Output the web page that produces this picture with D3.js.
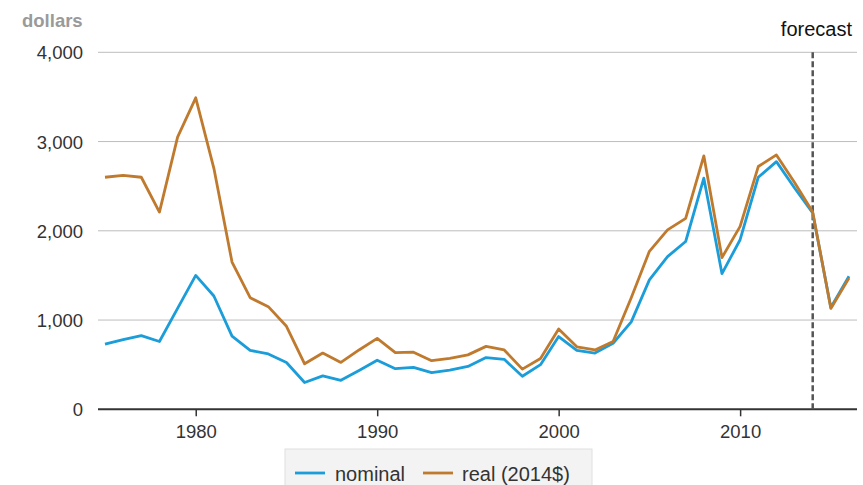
<!DOCTYPE html>
<html>
<head>
<meta charset="utf-8">
<script src="https://cdn.jsdelivr.net/npm/d3@7"></script>
<style>
  body { margin: 0; background: #fff; }
  text { font-family: "Liberation Sans", Arial, sans-serif; }
</style>
</head>
<body>
<svg id="chart"></svg>
<script>
// years shown on the chart
const years = d3.range(1975, 2017);

// nominal dollars
const nominal = [730, 780, 825, 760, 1130, 1500, 1270, 820, 660, 620, 525, 300, 375, 325,
  435, 550, 455, 470, 410, 440, 480, 580, 560, 370, 500, 815, 660, 630, 740, 980,
  1450, 1710, 1880, 2590, 1520, 1900, 2600, 2775, 2480, 2200, 1140, 1490];

// real (2014$)
const real = [2600, 2620, 2600, 2210, 3050, 3490, 2700, 1650, 1250, 1150, 930, 510, 630, 525,
  665, 795, 635, 640, 545, 570, 610, 705, 665, 450, 570, 900, 700, 665, 760, 1250,
  1770, 2010, 2140, 2840, 1700, 2050, 2720, 2850, 2540, 2210, 1130, 1470];

const yTicks = [0, 1000, 2000, 3000, 4000];
const xTicks = [1980, 1990, 2000, 2010];
const forecastYear = 2014;

const series = [
  { name: 'nominal', values: nominal, color: '#1b9dd9' },
  { name: 'real (2014$)', values: real, color: '#bf7a2e' }
];

const width = 863, height = 485;

const svg = d3.select('#chart')
  .attr('width', width)
  .attr('height', height);

const x = d3.scaleLinear()
  .domain([1975, 2016])
  .range([105, 849]);

const y = d3.scaleLinear()
  .domain([0, 4000])
  .range([409.3, 52.3]);

// gridlines
svg.append('g')
  .selectAll('line')
  .data(yTicks.filter(d => d > 0))
  .join('line')
  .attr('x1', 98).attr('x2', 857)
  .attr('y1', d => y(d)).attr('y2', d => y(d))
  .attr('stroke', '#bdbdbd')
  .attr('stroke-width', 1);

// y labels
svg.append('g')
  .selectAll('text')
  .data(yTicks)
  .join('text')
  .attr('x', 83)
  .attr('y', d => y(d) + 7)
  .attr('text-anchor', 'end')
  .attr('font-size', 18.5)
  .attr('fill', '#333')
  .text(d => d3.format(',')(d));

svg.append('text')
  .attr('x', 22).attr('y', 27)
  .attr('font-size', 18.5)
  .attr('font-weight', 'bold')
  .attr('fill', '#9a9a9a')
  .text('dollars');

// x axis
const xAxis = svg.append('g')
  .attr('transform', `translate(0,${y(0)})`)
  .call(d3.axisBottom(x).tickValues(xTicks).tickFormat(d3.format('d')).tickSize(7).tickPadding(9));
xAxis.select('.domain').attr('d', 'M98,0H857').attr('stroke', '#333').attr('stroke-width', 2);
xAxis.selectAll('.tick line').attr('stroke', '#333').attr('stroke-width', 1.5);
xAxis.selectAll('.tick text')
  .attr('font-size', 18.5)
  .attr('fill', '#333')
  .style('font-family', '"Liberation Sans", Arial, sans-serif');

// forecast line
svg.append('line')
  .attr('x1', x(forecastYear)).attr('x2', x(forecastYear))
  .attr('y1', y(4000)).attr('y2', y(0))
  .attr('stroke', '#555')
  .attr('stroke-width', 2.5)
  .attr('stroke-dasharray', '6,3');

svg.append('text')
  .attr('x', 852).attr('y', 36)
  .attr('text-anchor', 'end')
  .attr('font-size', 20)
  .attr('fill', '#111')
  .text('forecast');

// lines
const line = d3.line()
  .x((d, i) => x(years[i]))
  .y(d => y(d));

svg.append('g')
  .selectAll('path')
  .data(series)
  .join('path')
  .attr('d', d => line(d.values))
  .attr('fill', 'none')
  .attr('stroke', d => d.color)
  .attr('stroke-width', 2.8)
  .attr('stroke-linejoin', 'round');

// legend
const legend = svg.append('g');
legend.append('rect')
  .attr('x', 285).attr('y', 449)
  .attr('width', 307).attr('height', 40)
  .attr('fill', '#f3f3f3')
  .attr('stroke', '#e0e0e0');

const items = [
  { s: series[0], lx: 295, tx: 335 },
  { s: series[1], lx: 423, tx: 462 }
];
items.forEach(it => {
  legend.append('line')
    .attr('x1', it.lx).attr('x2', it.lx + 30)
    .attr('y1', 473).attr('y2', 473)
    .attr('stroke', it.s.color)
    .attr('stroke-width', 2.8);
  legend.append('text')
    .attr('x', it.tx).attr('y', 481)
    .attr('font-size', 20)
    .attr('fill', '#333')
    .text(it.s.name);
});
</script>
</body>
</html>
